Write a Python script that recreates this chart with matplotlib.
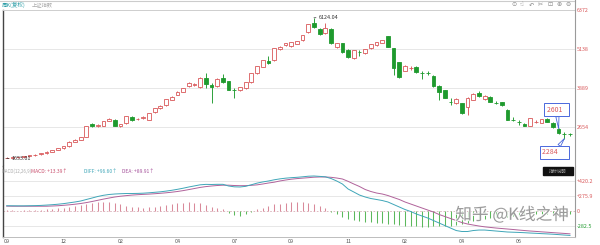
import numpy as np
import matplotlib.pyplot as plt
import matplotlib.patheffects as pe
from matplotlib.lines import Line2D
from matplotlib.patches import Rectangle

plt.rcParams['font.family'] = ['Noto Sans CJK SC', 'DejaVu Sans']

# ------------------------------------------------------------
# weekly candles (上证指数, 周K)
# ------------------------------------------------------------
opens = [1668, 1680, 1690, 1705, 1722, 1750, 1780, 1825, 1870, 1925,
         1980, 2040, 2190, 2245, 2330, 2740, 2690, 2700, 2860, 2870,
         2700, 2780, 2970, 2900, 2930, 2890, 3130, 3260, 3350, 3520,
         3680, 3780, 3960, 3990, 3920, 4200, 3990, 3960, 4210, 4110,
         3840, 3830, 3890, 4080, 4370, 4570, 4750, 4780, 5130, 5260,
         5230, 5300, 5420, 5670, 5950, 5760, 5650, 5760, 5200, 5310,
         5090, 4860, 5050, 5010, 5160, 5260, 5330, 5530, 5160, 4710,
         4440, 4530, 4550, 4380, 4370, 4280, 3960, 3820, 3460, 3430,
         3410, 3300, 3520, 3730, 3550, 3610, 3430, 3440, 3190, 2890,
         2820, 2750, 2700, 2810, 2790, 2900, 2780, 2601, 2440, 2430]
highs = [1700, 1700, 1712, 1730, 1760, 1785, 1830, 1880, 1930, 1990,
         2050, 2200, 2260, 2340, 2700, 2770, 2740, 2860, 2930, 2900,
         2760, 3010, 2990, 2950, 2990, 3110, 3270, 3340, 3550, 3630,
         3790, 3900, 4070, 4060, 4230, 4370, 4050, 4200, 4340, 4130,
         3900, 3930, 4090, 4380, 4600, 4790, 4910, 5170, 5220, 5330,
         5370, 5400, 5590, 5940, 6124.04, 5800, 5960, 5790, 5330, 5330,
         5120, 5110, 5100, 5140, 5300, 5370, 5430, 5560, 5180, 4730,
         4620, 4590, 4580, 4420, 4420, 4300, 3980, 3840, 3560, 3560,
         3430, 3600, 3720, 3790, 3660, 3640, 3480, 3460, 3210, 2970,
         2880, 2780, 2950, 2880, 2920, 2930, 2800, 2620, 2480, 2470]
lows = [1653.01, 1665, 1675, 1690, 1710, 1735, 1770, 1810, 1860, 1910,
        1965, 2030, 2170, 2230, 2320, 2650, 2660, 2680, 2840, 2680,
        2660, 2760, 2850, 2870, 2910, 2880, 3110, 3240, 3330, 3500,
        3660, 3760, 3940, 3970, 3900, 3890, 3420, 3940, 4060, 3820,
        3580, 3800, 3870, 4060, 4350, 4550, 4650, 4760, 5110, 5240,
        5200, 5280, 5400, 5650, 5800, 5580, 5620, 5300, 5150, 5010,
        4850, 4800, 4900, 4980, 5140, 5240, 5310, 5190, 4310, 4200,
        4420, 4460, 4380, 4180, 4300, 3940, 3510, 3560, 3360, 3400,
        3080, 3035, 3500, 3620, 3520, 3440, 3380, 3330, 2870, 2840,
        2720, 2690, 2680, 2770, 2770, 2800, 2620, 2440, 2284, 2380]
closes = [1680, 1690, 1700, 1722, 1748, 1775, 1820, 1865, 1920, 1975,
          2035, 2180, 2240, 2320, 2690, 2680, 2705, 2830, 2900, 2700,
          2740, 2990, 2870, 2910, 2960, 3090, 3250, 3320, 3530, 3600,
          3760, 3880, 4040, 4020, 4200, 4020, 3930, 4170, 4080, 3830,
          3820, 3910, 4070, 4360, 4580, 4770, 4690, 5150, 5200, 5310,
          5350, 5380, 5570, 5920, 5840, 5620, 5790, 5330, 5310, 5040,
          4880, 5090, 5040, 5120, 5280, 5350, 5410, 5210, 4540, 4250,
          4580, 4540, 4410, 4370, 4360, 3970, 3780, 3590, 3450, 3530,
          3110, 3570, 3690, 3640, 3630, 3460, 3420, 3360, 2890, 2880,
          2810, 2700, 2930, 2815, 2900, 2820, 2640, 2460, 2430, 2420]

# ------------------------------------------------------------
# MACD(12,26,9)
# ------------------------------------------------------------
diff = [96.6, 96, 95, 95, 97, 99, 103, 109, 116, 125,
        136, 151, 166, 184, 212, 239, 267, 289, 304, 313,
        318, 322, 322, 324, 328, 335, 344, 353, 366, 381,
        399, 419, 442, 462, 482, 490, 488, 491, 491, 460,
        445, 442, 454, 483, 513, 535, 552, 574, 591, 604,
        613, 620, 629, 640, 644, 637, 629, 598, 552, 497,
        405, 350, 294, 258, 230, 212, 193, 166, 120, 74,
        28, -9, -55, -92, -129, -175, -221, -267, -313, -359,
        -377, -377, -359, -350, -350, -359, -368, -377, -386, -390,
        -394, -399, -405, -410, -416, -421, -427, -434, -442, -449]
dea = [89.91, 88, 88, 88, 88, 88, 88, 88, 92, 97,
       105, 114, 125, 138, 155, 175, 197, 219, 239, 258,
       272, 283, 293, 300, 306, 311, 318, 326, 335, 346,
       359, 375, 394, 414, 434, 449, 460, 469, 475, 475,
       469, 466, 467, 473, 481, 497, 515, 530, 552, 570,
       585, 596, 605, 613, 622, 626, 626, 620, 607, 589,
       546, 497, 451, 396, 359, 331, 313, 285, 248, 212,
       166, 129, 92, 55, 18, -18, -64, -101, -138, -175,
       -212, -239, -258, -276, -291, -302, -313, -322, -331, -340,
       -350, -359, -368, -375, -383, -390, -398, -405, -412, -420]
macd = [13.39, 11, 9, 11, 15, 18, 24, 33, 40, 50,
        61, 77, 92, 110, 138, 156, 169, 175, 166, 147,
        125, 101, 83, 70, 64, 70, 83, 98, 114, 129,
        144, 156, 162, 156, 144, 110, 83, 55, 28, -37,
        -74, -83, -55, -18, 28, 64, 92, 120, 138, 151,
        160, 166, 169, 156, 129, 101, 55, -18, -64, -110,
        -147, -166, -184, -193, -202, -212, -221, -230, -239, -258,
        -267, -276, -276, -285, -285, -276, -276, -267, -267, -258,
        -239, -212, -184, -156, -138, -120, -110, -101, -101, -92,
        -83, -74, -64, -64, -64, -64, -55, -55, -55, -55]

month_labels = ['09', '12', '02', '04', '07', '09', '11', '02', '04', '06']
month_pos = [0, 10, 20, 30, 40, 50, 60, 70, 80, 90]
price_ticks = [2654, 3889, 5138, 6372]
macd_ticks = [552, 275.9, 0, -282.5]
macd_tick_labels = ['+420.2', '+275.9', '0', '-282.5']

RED = '#d9585a'
GREEN = '#1f9a2e'
BLUE = '#4a68dc'

# ------------------------------------------------------------
# layout (pixel based)
# ------------------------------------------------------------
W, H = 600, 245
fig = plt.figure(figsize=(6, 2.45), dpi=100)


def rect(x0, y0, x1, y1):
    return [x0 / W, 1 - y1 / H, (x1 - x0) / W, (y1 - y0) / H]


ax = fig.add_axes(rect(3, 10, 575, 166))
axm = fig.add_axes(rect(3, 166, 575, 237), sharex=ax)

o = np.array(opens)
h = np.array(highs)
l = np.array(lows)
c = np.array(closes)
x = np.arange(len(c))
up = c >= o
col = np.where(up, RED, GREEN)

# wicks, then bodies on top
ax.vlines(x, l, h, colors=col, lw=0.65, zorder=2)
ax.bar(x, np.maximum(np.abs(c - o), 8), bottom=np.minimum(o, c), width=0.66,
       color=np.where(up, 'white', GREEN), edgecolor=col, linewidth=0.6,
       zorder=3)

ax.set_xlim(-0.65, 99.88)
ax.set_ylim(1414, 6372)
ax.set_yticks(price_ticks)
ax.yaxis.tick_right()
ax.tick_params(axis='y', length=0, pad=1.5, labelsize=3.9, labelcolor=RED)
ax.tick_params(axis='x', length=0, labelbottom=False)
ax.grid(axis='y', color='#e3e3e3', lw=0.6)
ax.set_axisbelow(True)
for s in ['top', 'bottom']:
    ax.spines[s].set_color('#cfcfcf')
    ax.spines[s].set_linewidth(0.7)
ax.spines['left'].set_color('#444444')
ax.spines['left'].set_linewidth(1.0)
ax.spines['right'].set_color('#9a9a9a')
ax.spines['right'].set_linewidth(0.8)

# high / low marks
ax.annotate('6124.04', xy=(54, 6124.04), xytext=(3.5, 0.5),
            textcoords='offset points', fontsize=3.9, color='#333333',
            va='center', ha='left',
            arrowprops=dict(arrowstyle='-', lw=0.5, color='#333333',
                            shrinkA=0, shrinkB=0))
ax.annotate('1653.01', xy=(0, 1653.01), xytext=(3.5, 0),
            textcoords='offset points', fontsize=3.9, color='#333333',
            va='center', ha='left',
            arrowprops=dict(arrowstyle='-', lw=0.5, color='#333333',
                            shrinkA=0, shrinkB=0))

# callouts
ax.annotate('2601   ', xy=(97, 2601), xytext=(-8.5, 13.5),
            textcoords='offset points', fontsize=5, color=RED,
            va='center', ha='left',
            bbox=dict(boxstyle='square,pad=0.35', fc='white', ec=BLUE, lw=0.7),
            arrowprops=dict(arrowstyle='wedge,tail_width=0.45', fc='white',
                            ec=BLUE, lw=0.6, shrinkA=0, shrinkB=0))
ax.annotate('2284      ', xy=(98, 2284), xytext=(-16, -9.8),
            textcoords='offset points', fontsize=5, color=RED,
            va='center', ha='left',
            bbox=dict(boxstyle='square,pad=0.35', fc='white', ec=BLUE, lw=0.7),
            arrowprops=dict(arrowstyle='wedge,tail_width=0.45', fc='white',
                            ec=BLUE, lw=0.6, shrinkA=0, shrinkB=0))

# ------------------------------------------------------------
# MACD panel
# ------------------------------------------------------------
m = np.array(macd)
axm.vlines(x, 0, m, colors=np.where(m >= 0, '#d98a9a', '#5cb85c'), lw=0.75)
axm.plot(x, dea, color='#b0629a', lw=0.7)
axm.plot(x, diff, color='#3fa6b8', lw=0.7)

axm.set_ylim(-478, 828)
axm.set_yticks(macd_ticks)
axm.set_yticklabels(macd_tick_labels)
axm.yaxis.tick_right()
axm.tick_params(axis='y', length=0, pad=1.5, labelsize=3.9, labelcolor=RED)
axm.get_yticklabels()[-1].set_color(GREEN)
axm.set_xticks(month_pos)
axm.set_xticklabels(month_labels)
axm.tick_params(axis='x', length=0, pad=1.5, labelsize=3.9,
                labelcolor='#555555')
for yv in [552, 275.9, -282.5]:
    axm.axhline(yv, color='#e3e3e3', lw=0.6, zorder=0)
axm.axhline(0, color='#d8b0b8', lw=0.6, ls=(0, (2, 2)), zorder=0)
axm.spines['top'].set_visible(False)
axm.spines['bottom'].set_color('#bdbdbd')
axm.spines['bottom'].set_linewidth(0.7)
axm.spines['left'].set_color('#444444')
axm.spines['left'].set_linewidth(1.0)
axm.spines['right'].set_color('#9a9a9a')
axm.spines['right'].set_linewidth(0.8)

# ------------------------------------------------------------
# header texts, buttons, watermark
# ------------------------------------------------------------
def ftext(px, py, s, **kw):
    fig.text(px / W, 1 - py / H, s, va='center', **kw)


fig.add_artist(Line2D([0, 575 / W], [1 - 0.6 / H] * 2, color='#cccccc', lw=0.8))
fig.add_artist(Line2D([575 / W] * 2, [1 - 10 / H, 1], color='#9a9a9a', lw=0.8))
ftext(2, 5, '周K(复权)', fontsize=4, color='#2f9fa8')
ftext(32, 5, '上证指数', fontsize=3.8, color='#aaaaaa')
for i, s in enumerate(['⊙', '☝', '↶', '✂', '⊡', '⊕', '⊖']):
    ftext(511 + i * 9, 5, s, fontsize=4.5, color='#8a8a8a',
          family=['DejaVu Sans', 'Noto Sans CJK SC'])

ftext(2, 171, 'MACD(12,26,9)', fontsize=3.2, color='#aaaaaa')
ftext(31, 171, 'MACD: +13.39↑', fontsize=3.6, color='#c9506e')
ftext(84, 171, 'DIFF: +96.60↑', fontsize=3.6, color='#3fa6b8')
ftext(122, 171, 'DEA: +89.91↑', fontsize=3.6, color='#a4509a')

fig.add_artist(Rectangle((543 / W, 1 - 175 / H), 30 / W, 8 / H,
                         transform=fig.transFigure, color='#111111'))
ftext(558, 171, '指标说明', fontsize=3.2, color='#999999', ha='center')

fig.text(512 / W, 1 - 215 / H, '知乎 @K线之神', fontsize=12, color='#8c8c8c',
         alpha=0.85, ha='center', va='center',
         path_effects=[pe.withStroke(linewidth=1.5, foreground='white')])

fig.savefig('out.png', dpi=100)
